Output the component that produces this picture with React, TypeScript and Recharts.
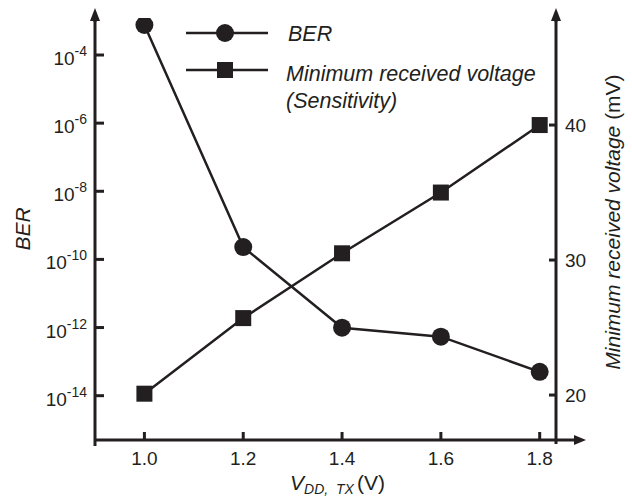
import React from 'react';
import { ComposedChart, Line, XAxis, YAxis } from 'recharts';

// values
const vdd = [1.0, 1.2, 1.4, 1.6, 1.8];
const ber = [7.6e-4, 2.3e-10, 9.9e-13, 5.4e-13, 5.0e-14];
const sensitivity = [20.1, 25.7, 30.5, 35.0, 40.0];

const xTicks = [1.0, 1.2, 1.4, 1.6, 1.8];
const berTicks = [1e-14, 1e-12, 1e-10, 1e-8, 1e-6, 1e-4];
const mvTicks = [20, 30, 40];

const INK = '#231f20';
const FONT = '"Liberation Sans", Arial, Helvetica, sans-serif';

const W = 632;
const H = 498;
const TOP = 18;
const LEFT_W = 95;
const RIGHT_W = 76;
const BOTTOM_H = 58;

const data = vdd.map((v, i) => ({ vdd: v, ber: ber[i], sens: sensitivity[i] }));

function BerTick(props: any) {
  const { x, y, payload } = props;
  const exp = Math.round(Math.log10(payload.value));
  return (
    <text x={x} y={y + 10} textAnchor="end" fill={INK} fontFamily={FONT} fontSize={19}>
      10<tspan dy={-9} fontSize={14}>{exp}</tspan>
    </text>
  );
}

function CircleDot(props: any) {
  const { cx, cy, index } = props;
  return <circle key={`c${index}`} cx={cx} cy={cy} r={9} fill={INK} />;
}

function SquareDot(props: any) {
  const { cx, cy, index } = props;
  return <rect key={`s${index}`} x={cx - 8} y={cy - 8} width={16} height={16} fill={INK} />;
}

// legend drawn on top of the chart, like the key in the figure
function LegendKey() {
  return (
    <g fontFamily={FONT} fontSize={21.5} fontStyle="italic" fill={INK}>
      <line x1={186} x2={268} y1={33} y2={33} stroke={INK} strokeWidth={2.5} />
      <circle cx={225} cy={33} r={9} fill={INK} />
      <text x={288} y={41}>BER</text>
      <line x1={186} x2={268} y1={70} y2={70} stroke={INK} strokeWidth={2.5} />
      <rect x={217} y={62} width={16} height={16} fill={INK} />
      <text x={286} y={81}>Minimum received voltage</text>
      <text x={286} y={108}>(Sensitivity)</text>
    </g>
  );
}

function BerLabel(props: any) {
  const { x, y, height } = props.viewBox;
  const cx = x + 22;
  const cy = y + height / 2;
  return (
    <text x={cx} y={cy} transform={`rotate(-90 ${cx} ${cy})`} textAnchor="middle" dominantBaseline="central"
      fontFamily={FONT} fontSize={21} fontStyle="italic" fill={INK}>BER</text>
  );
}

function MvLabel(props: any) {
  const { x, y, height } = props.viewBox;
  const cx = x + 56;
  const cy = y + height / 2 - 7;
  return (
    <text x={cx} y={cy} transform={`rotate(-90 ${cx} ${cy})`} textAnchor="middle" dominantBaseline="central"
      fontFamily={FONT} fontSize={21} fill={INK}>
      <tspan fontStyle="italic">Minimum received voltage</tspan> (mV)
    </text>
  );
}

function VddLabel(props: any) {
  const { x, y, width } = props.viewBox;
  return (
    <text x={x + width / 2 + 12} y={y + 50} textAnchor="middle" fontFamily={FONT} fontSize={21} fill={INK}
      style={{ whiteSpace: 'pre' }}>
      <tspan fontStyle="italic">V</tspan>
      <tspan fontStyle="italic" fontSize={14} dy={4}>{'DD,  TX'}</tspan>
      <tspan dy={-4} dx={3}>(V)</tspan>
    </text>
  );
}

export default function App() {
  const axisX = LEFT_W;
  const rightX = W - RIGHT_W;
  const baseY = H - BOTTOM_H;
  return (
    <div style={{ position: 'absolute', left: 0, top: 0, width: W, height: H, background: '#fff' }}>
      <ComposedChart width={W} height={H} data={data} margin={{ top: TOP, right: 0, bottom: 0, left: 0 }}
        style={{ fontFamily: FONT }}>
        <XAxis
          dataKey="vdd"
          type="number"
          domain={[0.9, 1.833]}
          allowDataOverflow
          ticks={xTicks}
          tickFormatter={(v: number) => v.toFixed(1)}
          height={BOTTOM_H}
          tickSize={-8}
          tickMargin={20}
          axisLine={{ stroke: INK, strokeWidth: 3 }}
          tickLine={{ stroke: INK, strokeWidth: 3 }}
          tick={{ fill: INK, fontSize: 19, fontFamily: FONT }}
          label={VddLabel}
        />
        <YAxis
          yAxisId="ber"
          orientation="left"
          scale="log"
          type="number"
          domain={[5e-16, 1.22e-3]}
          allowDataOverflow
          ticks={berTicks}
          width={LEFT_W}
          tickSize={-9}
          tickMargin={17}
          axisLine={{ stroke: INK, strokeWidth: 3 }}
          tickLine={{ stroke: INK, strokeWidth: 3 }}
          tick={BerTick}
          label={BerLabel}
        />
        <YAxis
          yAxisId="mv"
          orientation="right"
          type="number"
          domain={[16.67, 47.93]}
          allowDataOverflow
          ticks={mvTicks}
          width={RIGHT_W}
          tickSize={-7}
          tickMargin={16}
          axisLine={{ stroke: INK, strokeWidth: 3 }}
          tickLine={{ stroke: INK, strokeWidth: 3 }}
          tick={{ fill: INK, fontSize: 19, fontFamily: FONT }}
          label={MvLabel}
        />
        <Line yAxisId="ber" dataKey="ber" stroke={INK} strokeWidth={2.5} dot={CircleDot} activeDot={false}
          isAnimationActive={false} type="linear" />
        <Line yAxisId="mv" dataKey="sens" stroke={INK} strokeWidth={2.5} dot={SquareDot} activeDot={false}
          isAnimationActive={false} type="linear" />
      </ComposedChart>
      <svg width={W} height={H} style={{ position: 'absolute', left: 0, top: 0, pointerEvents: 'none' }}>
        <LegendKey />
        <g fill={INK} stroke={INK}>
          <line x1={axisX} x2={axisX} y1={baseY} y2={baseY + 6} strokeWidth={3} />
          <line x1={rightX} x2={rightX} y1={baseY} y2={baseY + 4} strokeWidth={3} />
          <line x1={axisX} x2={axisX} y1={TOP + 4} y2={TOP} strokeWidth={3} />
          <line x1={rightX} x2={rightX} y1={TOP + 4} y2={TOP} strokeWidth={3} />
          <polygon points={`${axisX - 5},${TOP + 3} ${axisX + 5},${TOP + 3} ${axisX},${TOP - 10}`} stroke="none" />
          <polygon points={`${rightX - 5},${TOP + 3} ${rightX + 5},${TOP + 3} ${rightX},${TOP - 10}`} stroke="none" />
          <line x1={rightX} x2={W - 55} y1={baseY} y2={baseY} strokeWidth={3} />
          <polygon points={`${W - 58},${baseY - 5} ${W - 58},${baseY + 5} ${W - 46},${baseY}`} stroke="none" />
        </g>
      </svg>
    </div>
  );
}
